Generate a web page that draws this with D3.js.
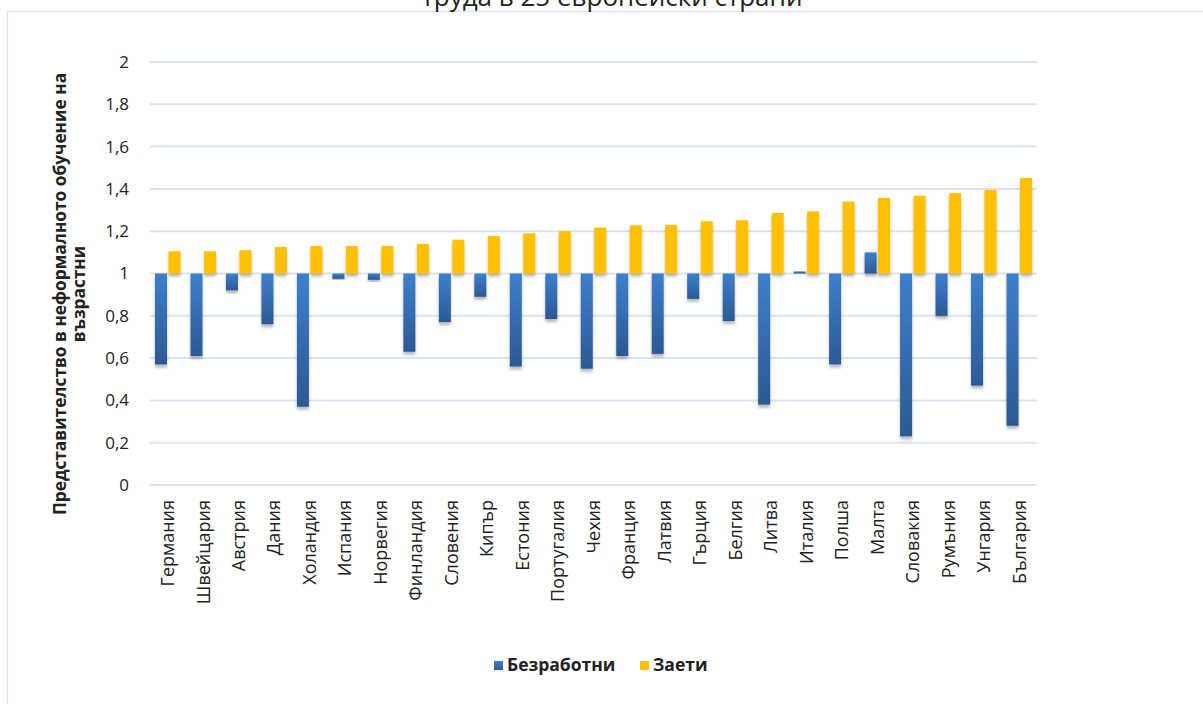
<!DOCTYPE html>
<html>
<head>
<meta charset="utf-8">
<script src="https://cdn.jsdelivr.net/npm/d3@7/dist/d3.min.js"></script>
<style>
  html, body { margin: 0; padding: 0; background: #fff; }
  svg { display: block; }
  text { font-family: "Open Sans", "Noto Sans", sans-serif; fill: #222; }
</style>
</head>
<body>
<svg id="chart" width="1203" height="704"></svg>
<script>
const categories = ["Германия","Швейцария","Австрия","Дания","Холандия","Испания","Норвегия","Финландия","Словения","Кипър","Естония","Португалия","Чехия","Франция","Латвия","Гърция","Белгия","Литва","Италия","Полша","Малта","Словакия","Румъния","Унгария","България"];
const unemployed = [0.57,0.61,0.92,0.76,0.37,0.975,0.97,0.63,0.77,0.89,0.56,0.785,0.55,0.61,0.62,0.88,0.775,0.38,1.01,0.57,1.10,0.23,0.80,0.47,0.28];
const employed   = [1.105,1.105,1.11,1.125,1.13,1.13,1.13,1.14,1.16,1.177,1.19,1.20,1.217,1.228,1.23,1.247,1.252,1.286,1.294,1.34,1.357,1.368,1.38,1.395,1.452];
const seriesNames = ["Безработни","Заети"];
const yTicks = [0,0.2,0.4,0.6,0.8,1,1.2,1.4,1.6,1.8,2];
const baseline = 1;
const titleText = "труда в 25 европейски страни";
const yTitleLines = ["Представителство в неформалното обучение на","възрастни"];

const svg = d3.select("#chart");
const defs = svg.append("defs");
const grad = defs.append("linearGradient").attr("id","blueGrad").attr("x1",0).attr("y1",0).attr("x2",0).attr("y2",1);
grad.append("stop").attr("offset","0%").attr("stop-color","#3d7fcc");
grad.append("stop").attr("offset","100%").attr("stop-color","#2c5993");
const lgrad = defs.append("linearGradient").attr("id","blueGradL").attr("x1",0).attr("y1",0).attr("x2",0).attr("y2",1);
lgrad.append("stop").attr("offset","0%").attr("stop-color","#3d7fcc");
lgrad.append("stop").attr("offset","100%").attr("stop-color","#2c5a96");
const filt = defs.append("filter").attr("id","shadow").attr("x","-50%").attr("y","-20%").attr("width","200%").attr("height","140%");
filt.append("feDropShadow").attr("dx",0).attr("dy",3).attr("stdDeviation",1.8).attr("flood-color","#000").attr("flood-opacity",0.28);

// chart border
svg.append("rect").attr("x",7.5).attr("y",11.5).attr("width",1300).attr("height",800)
  .attr("fill","none").attr("stroke","#d9e2f0").attr("stroke-width",1.2);

// title (clipped at top, as in the reference)
svg.append("text").attr("x",612).attr("y",6).attr("text-anchor","middle")
  .attr("font-size",26).text(titleText);

const x0 = d3.scaleBand().domain(categories).range([150,1037]).padding(0);
const x1 = d3.scaleBand().domain(seriesNames).range([0,x0.bandwidth()]).paddingInner(0.11).paddingOuter(0.37);
const y = d3.scaleLinear().domain([0,2]).range([485,62]);

// gridlines
svg.append("g").selectAll("line").data(yTicks).join("line")
  .attr("x1",150).attr("x2",1037)
  .attr("y1",d=>y(d)).attr("y2",d=>y(d))
  .attr("stroke","#d9e2f0").attr("stroke-width",2);

// y axis labels
const yAxis = d3.axisLeft(y).tickValues(yTicks).tickSize(0).tickPadding(0)
  .tickFormat(d=>d3.format("")(+d.toFixed(1)).replace(".",","));
const ya = svg.append("g").attr("transform","translate(129,0)").call(yAxis);
ya.select(".domain").remove();
ya.selectAll("text").attr("font-size",17).attr("fill","#222").attr("font-family","'Open Sans', sans-serif");

// bars
const data = categories.map((c,i)=>({c, u:unemployed[i], e:employed[i]}));
const g = svg.append("g");
g.selectAll("rect.u").data(data).join("rect").attr("class","u")
  .attr("x",d=>x0(d.c)+x1("Безработни"))
  .attr("width",x1.bandwidth())
  .attr("y",d=>Math.min(y(d.u),y(baseline)))
  .attr("height",d=>Math.max(Math.abs(y(d.u)-y(baseline)),1))
  .attr("fill","url(#blueGrad)")
  .attr("filter","url(#shadow)");
g.selectAll("rect.e").data(data).join("rect").attr("class","e")
  .attr("x",d=>x0(d.c)+x1("Заети"))
  .attr("width",x1.bandwidth())
  .attr("y",d=>Math.min(y(d.e),y(baseline)))
  .attr("height",d=>Math.abs(y(d.e)-y(baseline)))
  .attr("fill","#ffc000")
  .attr("filter","url(#shadow)");

// category labels
const xAxis = d3.axisBottom(x0).tickSize(0).tickPadding(0);
const xa = svg.append("g").attr("transform","translate(0,500)").call(xAxis);
xa.select(".domain").remove();
xa.selectAll("text")
  .attr("font-size",18).attr("fill","#222").attr("font-family","'Open Sans', sans-serif")
  .attr("transform","rotate(-90)")
  .attr("text-anchor","end").attr("dy","0.35em").attr("x",0).attr("y",0);

// y title
const yt = svg.append("text")
  .attr("font-size",17.3).attr("font-weight","bold").attr("text-anchor","middle");
yTitleLines.forEach((l,i)=>{
  yt.append("tspan").attr("x",-294).attr("y",66 + i*19).text(l);
});
yt.attr("transform","rotate(-90)");

// legend
const leg = svg.append("g").attr("transform","translate(494,661)");
const legItems = [{n:"Безработни",f:"url(#blueGradL)",x:0},{n:"Заети",f:"#ffc000",x:146}];
legItems.forEach(it=>{
  leg.append("rect").attr("x",it.x).attr("y",0).attr("width",9).attr("height",9).attr("fill",it.f);
  leg.append("text").attr("x",it.x+13).attr("y",10).attr("font-size",17.5).attr("font-weight","bold").text(it.n);
});
</script>
</body>
</html>
